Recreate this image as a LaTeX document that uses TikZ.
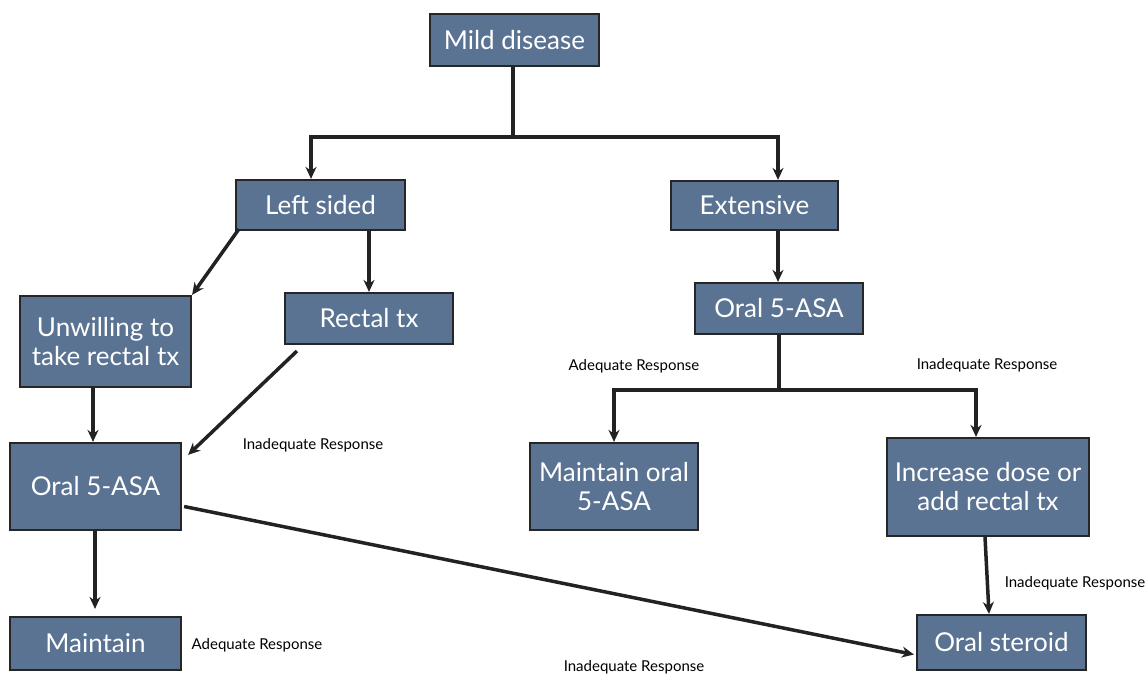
\documentclass[tikz,border=0pt]{standalone}
\usepackage{fontspec}
\setmainfont{Lato}
\usetikzlibrary{arrows.meta,calc}
\definecolor{boxfill}{HTML}{5B7393}
\definecolor{boxline}{HTML}{262626}
\definecolor{arr}{HTML}{222222}
\tikzset{
  box/.style={draw=boxline, line width=2.2pt, fill=boxfill, text=white, align=center,
    inner sep=0pt, font=\fontsize{26}{29}\selectfont},
  conn/.style={draw=arr, line width=3.5pt},
  arrowc/.style={conn, -{Stealth[length=12pt,width=11pt]}},
  lbl/.style={font=\fontsize{15}{17}\selectfont, text=black, inner sep=0pt}
}
\begin{document}
\begin{tikzpicture}[x=1pt,y=-1pt]
\useasboundingbox (0,0) rectangle (1147,676);
% boxes
\node[box, minimum width=169pt, minimum height=52pt] (mild) at (514.5,40) {Mild disease};
\node[box, minimum width=169pt, minimum height=50pt] (left) at (320.5,205) {Left sided};
\node[box, minimum width=167pt, minimum height=49pt] (ext) at (754.5,205.5) {Extensive};
\node[box, minimum width=171pt, minimum height=91pt] (unw) at (105.5,341.5) {Unwilling to\\take rectal tx};
\node[box, minimum width=168pt, minimum height=51pt] (rect) at (369,318.5) {Rectal tx};
\node[box, minimum width=168pt, minimum height=51pt] (oralR) at (779,308.5) {Oral 5-ASA};
\node[box, minimum width=168pt, minimum height=87pt] (maintR) at (614,486.5) {Maintain oral\\5-ASA};
\node[box, minimum width=202pt, minimum height=98pt] (incr) at (988,487) {Increase dose or\\add rectal tx};
\node[box, minimum width=169pt, minimum height=55pt] (ster) at (1001.5,642.5) {Oral steroid};
\node[box, minimum width=171pt, minimum height=87pt] (oralL) at (95.5,486.5) {Oral 5-ASA};
\node[box, minimum width=171pt, minimum height=53pt] (maint) at (95.5,643.5) {Maintain};
% junctions
\coordinate (j1) at (513,137);
\coordinate (j2) at (779,390);
% connectors
\draw[conn] (mild.south -| j1) -- (j1);
\draw[arrowc] (j1) -| (left.north -| 311,0);
\draw[arrowc] (j1) -| (ext.north -| 778,0);
\draw[arrowc] ($(left.south west)+(4,-2)$) -- (unw.north east);
\draw[arrowc] (left.south -| 369,0) -- (rect.north);
\draw[arrowc] (ext.south -| 778,0) -- (oralR.north -| 778,0);
\draw[conn] (oralR.south -| j2) -- (j2);
\draw[arrowc] (j2) -| (maintR.north);
\draw[arrowc] (j2) -| (incr.north -| 976,0);
\draw[arrowc] (incr.south -| 985,0) -- (ster.north -| 989,0);
\draw[arrowc] (unw.south -| 93,0) -- (oralL.north -| 93,0);
\draw[arrowc] ($(rect.south west)+(13,6)$) -- ($(oralL.north east)+(6,13)$);
\draw[arrowc] (oralL.south -| 95,0) -- ($(maint.north -| 95,0)+(0,-7)$);
\draw[arrowc] ($(oralL.east)+(2,20)$) -- ($(ster.west)+(-2,12)$);
% labels
\node[lbl] (l1) at (313,445) {Inadequate Response};
\node[lbl] (l2) at (634,366) {Adequate Response};
\node[lbl] (l3) at (987,365) {Inadequate Response};
\node[lbl] (l4) at (1075,583) {Inadequate Response};
\node[lbl] (l5) at (257,645) {Adequate Response};
\node[lbl] (l6) at (634,667) {Inadequate Response};
\end{tikzpicture}
\end{document}
